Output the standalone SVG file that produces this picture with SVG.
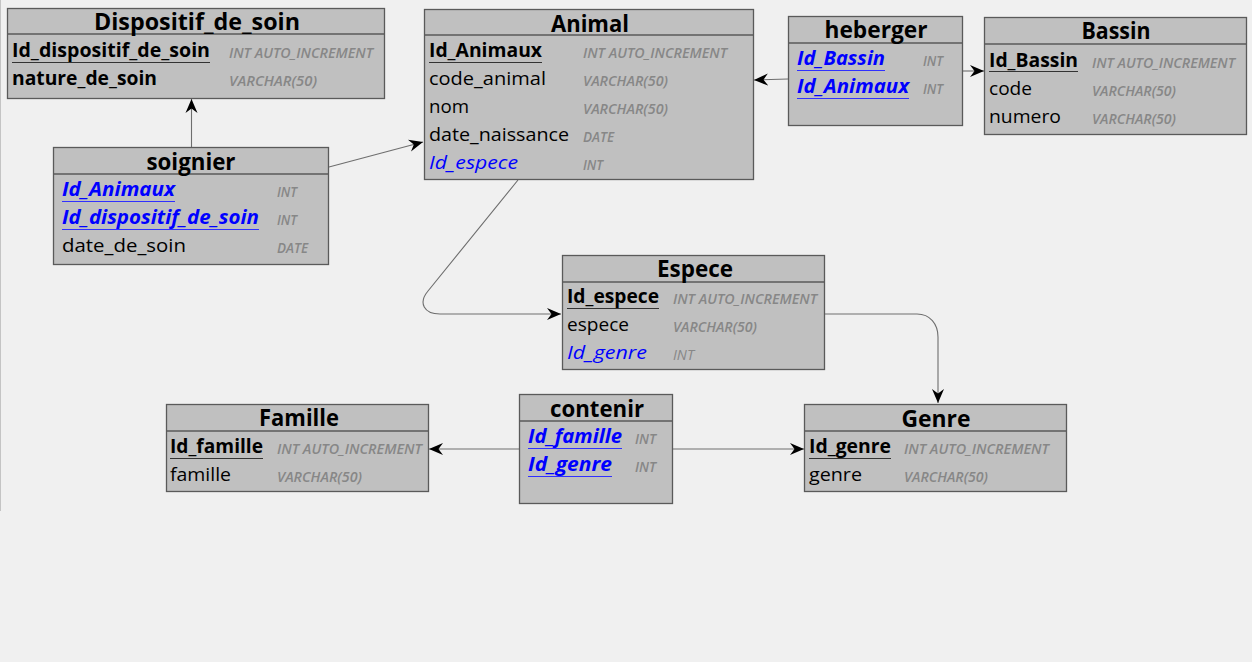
<svg xmlns="http://www.w3.org/2000/svg" width="1252" height="662" viewBox="0 0 1252 662">
<defs>
<style>
text{font-family:"Open Sans","Noto Sans","Liberation Sans",sans-serif}
.box{fill:#c0c0c0;stroke:#5a5a5a;stroke-width:1.3}
.sep{stroke:#5a5a5a;stroke-width:1.3}
.title{font-size:24px;font-weight:bold;fill:#000;text-anchor:middle}
.f{font-size:19px;fill:#000}
.pk{font-size:19px;font-weight:bold;fill:#000}
.fk{font-size:19px;font-style:italic;fill:#0000ff}
.pfk{font-size:19px;font-style:italic;font-weight:bold;fill:#0000ff}
.t{font-size:14.5px;font-style:italic;font-weight:600;fill:#878787}
.ul{stroke:#333;stroke-width:1}
.ulb{stroke:#3030ff;stroke-width:1}
.c{fill:none;stroke:#6e6e6e;stroke-width:1.1}
</style>
<marker id="arr" markerWidth="16" markerHeight="14" refX="14" refY="6.5" orient="auto" markerUnits="userSpaceOnUse">
<path d="M0,0.5 L14,6.5 L0,12.5 L4.5,6.5 z" fill="#000"/>
</marker>
</defs>
<rect width="1252" height="662" fill="#f0f0f0"/>
<line x1="0.5" y1="0" x2="0.5" y2="511" stroke="#c4c4c4"/>

<g id="connectors">
<path class="c" d="M191.5,147 V99" marker-end="url(#arr)"/>
<path class="c" d="M329,167 L423,142" marker-end="url(#arr)"/>
<path class="c" d="M788,79 L754,80" marker-end="url(#arr)"/>
<path class="c" d="M963,71 L984,71" marker-end="url(#arr)"/>
<path class="c" d="M518,180 L428,291 C418,303 424,314 440,314 L561,314" marker-end="url(#arr)"/>
<path class="c" d="M825,314 L917,314 C930,314 938,324 938,337 L938,403" marker-end="url(#arr)"/>
<path class="c" d="M519,449 L429,449" marker-end="url(#arr)"/>
<path class="c" d="M672,449 L804,449" marker-end="url(#arr)"/>
</g>

<g id="dispositif_de_soin">
<rect class="box" x="7.5" y="8.5" width="377" height="90"/>
<line class="sep" x1="7.5" y1="34" x2="384.5" y2="34"/>
<text class="title" x="197" y="30" textLength="206" lengthAdjust="spacingAndGlyphs">Dispositif_de_soin</text>
<text class="pk" x="12" y="57" textLength="198" lengthAdjust="spacingAndGlyphs">Id_dispositif_de_soin</text>
<line class="ul" x1="12" y1="62.5" x2="210" y2="62.5"/>
<text class="pk" x="12" y="85" textLength="145" lengthAdjust="spacingAndGlyphs">nature_de_soin</text>
<text class="t" x="229" y="58" textLength="144" lengthAdjust="spacingAndGlyphs">INT AUTO_INCREMENT</text>
<text class="t" x="229" y="86" textLength="88" lengthAdjust="spacingAndGlyphs">VARCHAR(50)</text>
</g>

<g id="animal">
<rect class="box" x="424.5" y="9.5" width="329" height="170"/>
<line class="sep" x1="424.5" y1="35" x2="753.5" y2="35"/>
<text class="title" x="590" y="32" textLength="78" lengthAdjust="spacingAndGlyphs">Animal</text>
<text class="pk" x="429" y="57" textLength="113" lengthAdjust="spacingAndGlyphs">Id_Animaux</text>
<line class="ul" x1="429" y1="62.5" x2="542" y2="62.5"/>
<text class="f" x="429" y="85" textLength="117" lengthAdjust="spacingAndGlyphs">code_animal</text>
<text class="f" x="429" y="113" textLength="40" lengthAdjust="spacingAndGlyphs">nom</text>
<text class="f" x="429" y="141" textLength="140" lengthAdjust="spacingAndGlyphs">date_naissance</text>
<text class="fk" x="429" y="169" textLength="89" lengthAdjust="spacingAndGlyphs">Id_espece</text>
<text class="t" x="583" y="58" textLength="144" lengthAdjust="spacingAndGlyphs">INT AUTO_INCREMENT</text>
<text class="t" x="583" y="86" textLength="85" lengthAdjust="spacingAndGlyphs">VARCHAR(50)</text>
<text class="t" x="583" y="114" textLength="85" lengthAdjust="spacingAndGlyphs">VARCHAR(50)</text>
<text class="t" x="583" y="142" textLength="31" lengthAdjust="spacingAndGlyphs">DATE</text>
<text class="t" x="583" y="170" textLength="20" lengthAdjust="spacingAndGlyphs">INT</text>
</g>

<g id="heberger">
<rect class="box" x="788.5" y="16.5" width="174" height="109"/>
<line class="sep" x1="788.5" y1="43" x2="962.5" y2="43"/>
<text class="title" x="876" y="38" textLength="103" lengthAdjust="spacingAndGlyphs">heberger</text>
<text class="pfk" x="797" y="65" textLength="88" lengthAdjust="spacingAndGlyphs">Id_Bassin</text>
<line class="ulb" x1="797" y1="70.5" x2="885" y2="70.5"/>
<text class="pfk" x="797" y="93" textLength="112" lengthAdjust="spacingAndGlyphs">Id_Animaux</text>
<line class="ulb" x1="797" y1="98.5" x2="909" y2="98.5"/>
<text class="t" x="923" y="66" textLength="20" lengthAdjust="spacingAndGlyphs">INT</text>
<text class="t" x="923" y="94" textLength="20" lengthAdjust="spacingAndGlyphs">INT</text>
</g>

<g id="bassin">
<rect class="box" x="984.5" y="17.5" width="262" height="117"/>
<line class="sep" x1="984.5" y1="44" x2="1246.5" y2="44"/>
<text class="title" x="1116" y="39" textLength="69" lengthAdjust="spacingAndGlyphs">Bassin</text>
<text class="pk" x="989" y="67" textLength="89" lengthAdjust="spacingAndGlyphs">Id_Bassin</text>
<line class="ul" x1="989" y1="71.5" x2="1078" y2="71.5"/>
<text class="f" x="989" y="95" textLength="43" lengthAdjust="spacingAndGlyphs">code</text>
<text class="f" x="989" y="123" textLength="72" lengthAdjust="spacingAndGlyphs">numero</text>
<text class="t" x="1092" y="68" textLength="143" lengthAdjust="spacingAndGlyphs">INT AUTO_INCREMENT</text>
<text class="t" x="1092" y="96" textLength="84" lengthAdjust="spacingAndGlyphs">VARCHAR(50)</text>
<text class="t" x="1092" y="124" textLength="84" lengthAdjust="spacingAndGlyphs">VARCHAR(50)</text>
</g>

<g id="soignier">
<rect class="box" x="53.5" y="147.5" width="275" height="117"/>
<line class="sep" x1="53.5" y1="174" x2="328.5" y2="174"/>
<text class="title" x="191" y="170" textLength="89" lengthAdjust="spacingAndGlyphs">soignier</text>
<text class="pfk" x="62" y="196" textLength="113" lengthAdjust="spacingAndGlyphs">Id_Animaux</text>
<line class="ulb" x1="62" y1="201.5" x2="175" y2="201.5"/>
<text class="pfk" x="62" y="224" textLength="197" lengthAdjust="spacingAndGlyphs">Id_dispositif_de_soin</text>
<line class="ulb" x1="62" y1="229.5" x2="259" y2="229.5"/>
<text class="f" x="62" y="252" textLength="124" lengthAdjust="spacingAndGlyphs">date_de_soin</text>
<text class="t" x="277" y="197" textLength="20" lengthAdjust="spacingAndGlyphs">INT</text>
<text class="t" x="277" y="225" textLength="20" lengthAdjust="spacingAndGlyphs">INT</text>
<text class="t" x="277" y="253" textLength="31" lengthAdjust="spacingAndGlyphs">DATE</text>
</g>

<g id="espece">
<rect class="box" x="562.5" y="255.5" width="262" height="114"/>
<line class="sep" x1="562.5" y1="282" x2="824.5" y2="282"/>
<text class="title" x="695" y="277" textLength="76" lengthAdjust="spacingAndGlyphs">Espece</text>
<text class="pk" x="567" y="303" textLength="92" lengthAdjust="spacingAndGlyphs">Id_espece</text>
<line class="ul" x1="567" y1="308.5" x2="659" y2="308.5"/>
<text class="f" x="567" y="331" textLength="62" lengthAdjust="spacingAndGlyphs">espece</text>
<text class="fk" x="567" y="359" textLength="80" lengthAdjust="spacingAndGlyphs">Id_genre</text>
<text class="t" x="673" y="304" textLength="144" lengthAdjust="spacingAndGlyphs">INT AUTO_INCREMENT</text>
<text class="t" x="673" y="332" textLength="84" lengthAdjust="spacingAndGlyphs">VARCHAR(50)</text>
<text class="t" x="673" y="360" textLength="21" lengthAdjust="spacingAndGlyphs" style="font-weight:normal">INT</text>
</g>

<g id="famille">
<rect class="box" x="166.5" y="404.5" width="262" height="87"/>
<line class="sep" x1="166.5" y1="431" x2="428.5" y2="431"/>
<text class="title" x="299" y="426" textLength="80" lengthAdjust="spacingAndGlyphs">Famille</text>
<text class="pk" x="170" y="453" textLength="93" lengthAdjust="spacingAndGlyphs">Id_famille</text>
<line class="ul" x1="170" y1="458.5" x2="263" y2="458.5"/>
<text class="f" x="170" y="481" textLength="61" lengthAdjust="spacingAndGlyphs">famille</text>
<text class="t" x="277" y="454" textLength="145" lengthAdjust="spacingAndGlyphs">INT AUTO_INCREMENT</text>
<text class="t" x="277" y="482" textLength="85" lengthAdjust="spacingAndGlyphs">VARCHAR(50)</text>
</g>

<g id="contenir">
<rect class="box" x="519.5" y="394.5" width="153" height="109"/>
<line class="sep" x1="519.5" y1="421" x2="672.5" y2="421"/>
<text class="title" x="597" y="417" textLength="94" lengthAdjust="spacingAndGlyphs">contenir</text>
<text class="pfk" x="528" y="443" textLength="94" lengthAdjust="spacingAndGlyphs">Id_famille</text>
<line class="ulb" x1="528" y1="448.5" x2="622" y2="448.5"/>
<text class="pfk" x="528" y="471" textLength="84" lengthAdjust="spacingAndGlyphs">Id_genre</text>
<line class="ulb" x1="528" y1="476.5" x2="612" y2="476.5"/>
<text class="t" x="635" y="444" textLength="21" lengthAdjust="spacingAndGlyphs">INT</text>
<text class="t" x="635" y="472" textLength="21" lengthAdjust="spacingAndGlyphs">INT</text>
</g>

<g id="genre">
<rect class="box" x="804.5" y="404.5" width="262" height="87"/>
<line class="sep" x1="804.5" y1="431" x2="1066.5" y2="431"/>
<text class="title" x="936" y="427" textLength="69" lengthAdjust="spacingAndGlyphs">Genre</text>
<text class="pk" x="809" y="453" textLength="82" lengthAdjust="spacingAndGlyphs">Id_genre</text>
<line class="ul" x1="809" y1="458.5" x2="891" y2="458.5"/>
<text class="f" x="809" y="481" textLength="53" lengthAdjust="spacingAndGlyphs">genre</text>
<text class="t" x="904" y="454" textLength="145" lengthAdjust="spacingAndGlyphs">INT AUTO_INCREMENT</text>
<text class="t" x="904" y="482" textLength="84" lengthAdjust="spacingAndGlyphs">VARCHAR(50)</text>
</g>
</svg>
